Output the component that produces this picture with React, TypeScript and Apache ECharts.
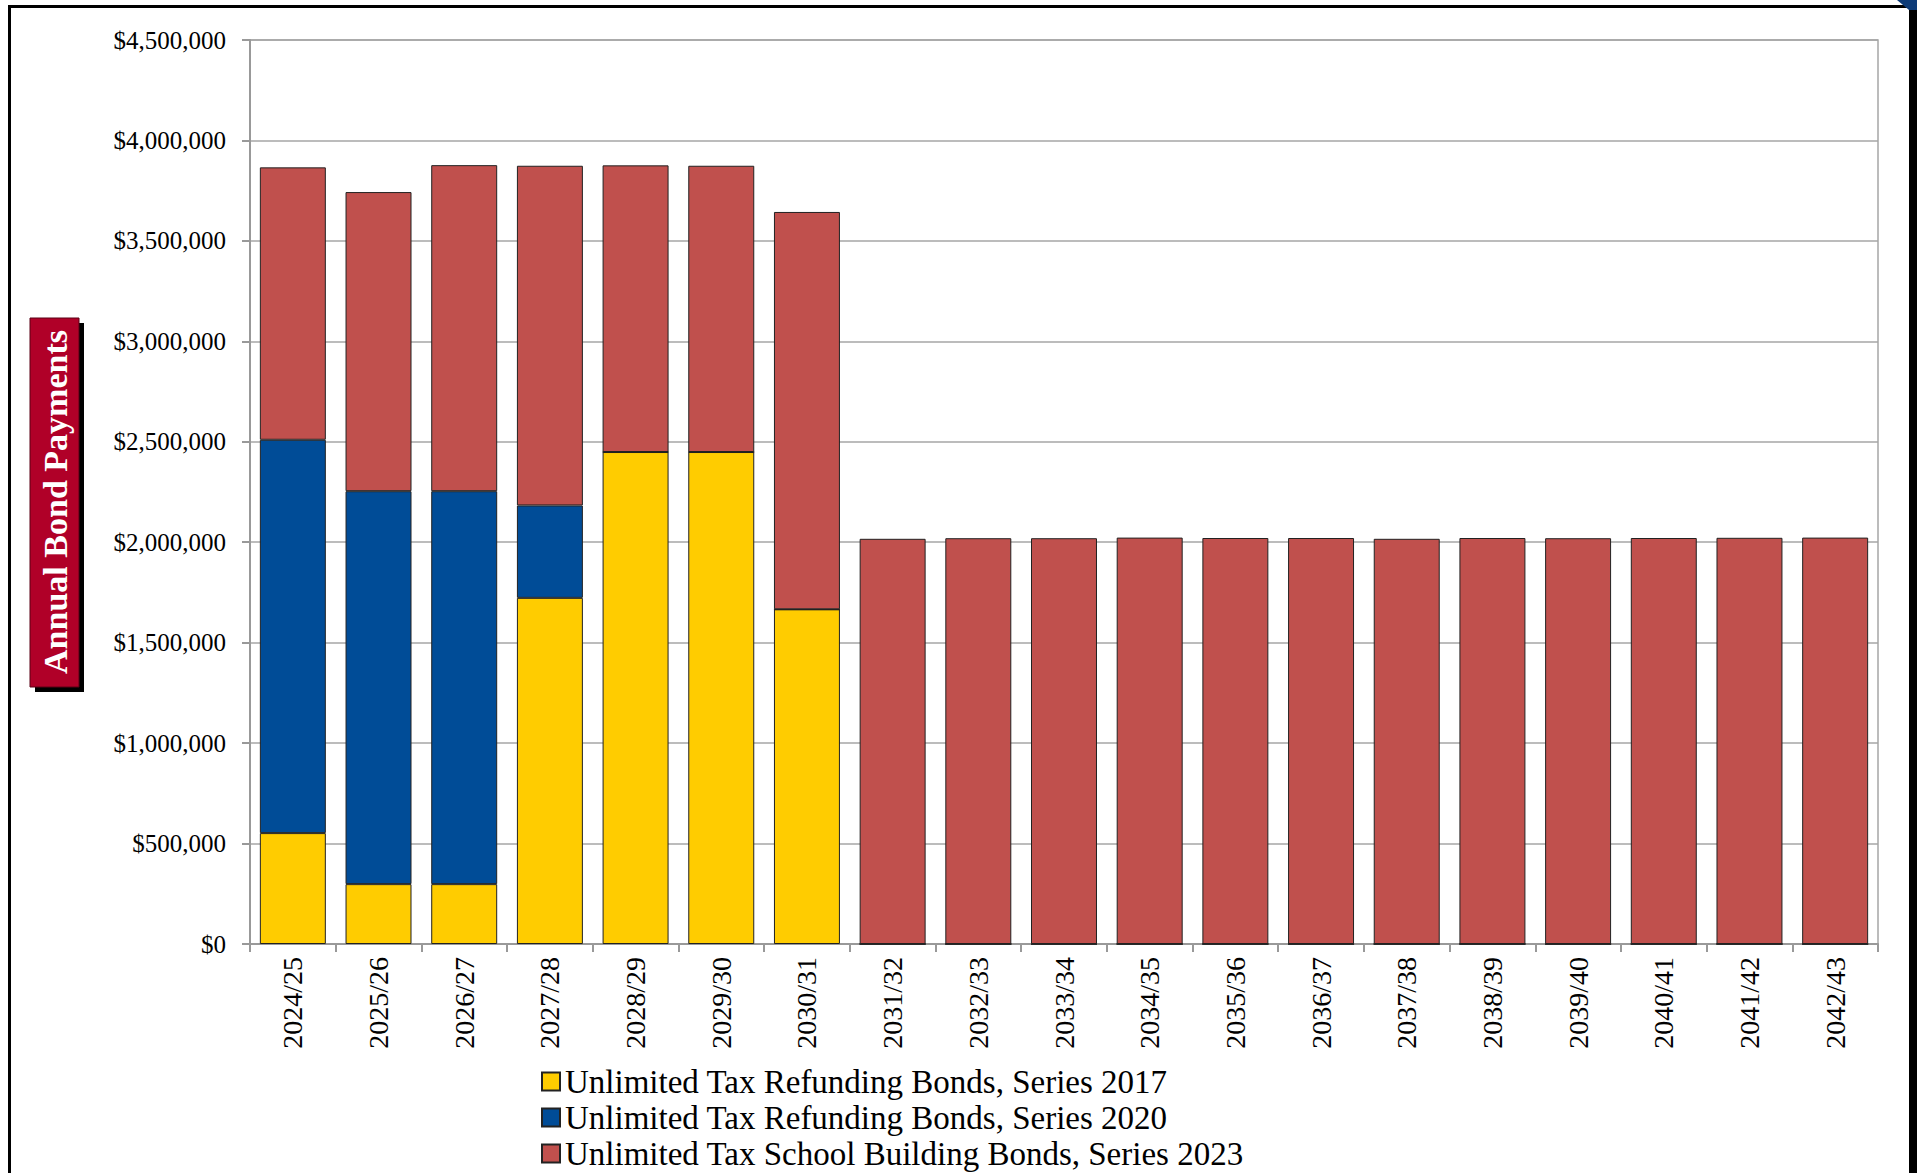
import React, { useEffect, useRef } from "react";
import * as echarts from "echarts";

const categories = [
  "2024/25", "2025/26", "2026/27", "2027/28", "2028/29", "2029/30", "2030/31",
  "2031/32", "2032/33", "2033/34", "2034/35", "2035/36", "2036/37", "2037/38",
  "2038/39", "2039/40", "2040/41", "2041/42", "2042/43",
];

const series2017 = [552000, 298000, 298000, 1723000, 2449000, 2449000, 1666000, 0, 0, 0, 0, 0, 0, 0, 0, 0, 0, 0, 0];
const series2020 = [1958000, 1956000, 1956000, 460000, 0, 0, 0, 0, 0, 0, 0, 0, 0, 0, 0, 0, 0, 0, 0];
const series2023 = [1356000, 1489000, 1623000, 1691000, 1427000, 1425000, 1978000, 2017000, 2020000, 2020000, 2023000, 2021000, 2021000, 2017000, 2021000, 2020000, 2021000, 2022000, 2023000];

const seriesNames = [
  "Unlimited Tax Refunding Bonds, Series 2017",
  "Unlimited Tax Refunding Bonds, Series 2020",
  "Unlimited Tax School Building Bonds, Series 2023",
];
const seriesColors = ["#FFCC00", "#004C97", "#C0504D"];
const axisTitle = "Annual Bond Payments";

const FONT = "'Liberation Serif', 'DejaVu Serif', serif";

function fmtMoney(v: number): string {
  const s = Math.round(v).toString();
  return "$" + s.replace(/\B(?=(\d{3})+(?!\d))/g, ",");
}

export default function App() {
  const ref = useRef<HTMLDivElement>(null);
  useEffect(() => {
    if (!ref.current) return;
    const chart = echarts.init(ref.current, undefined, { renderer: "svg" });
    const dataSets = [series2017, series2020, series2023];
    chart.setOption({
      animation: false,
      backgroundColor: "#ffffff",
      grid: {
        left: 250,
        top: 40,
        right: 39,
        bottom: 229,
        show: true,
        borderColor: "#a6a6a6",
        borderWidth: 1.5,
        containLabel: false,
      },
      legend: {
        orient: "vertical",
        left: 541,
        top: 1065,
        padding: 0,
        itemWidth: 18,
        itemHeight: 18,
        itemGap: 3,
        icon: "rect",
        textStyle: { fontFamily: FONT, fontSize: 33, color: "#000", lineHeight: 32 },
        data: seriesNames,
      },
      xAxis: {
        type: "category",
        data: categories,
        axisLine: { lineStyle: { color: "#999", width: 2 } },
        axisTick: { show: true, length: 8, lineStyle: { color: "#999", width: 2 } },
        axisLabel: {
          rotate: 90,
          margin: 13,
          fontFamily: FONT,
          fontSize: 28,
          color: "#000",
          interval: 0,
        },
      },
      yAxis: {
        type: "value",
        min: 0,
        max: 4500000,
        interval: 500000,
        axisLine: { show: true, lineStyle: { color: "#999", width: 2 } },
        axisTick: { show: true, length: 8, lineStyle: { color: "#999", width: 2 } },
        splitLine: { lineStyle: { color: "#a6a6a6", width: 1.5 } },
        axisLabel: {
          margin: 24,
          fontFamily: FONT,
          fontSize: 25,
          color: "#000",
          formatter: (v: number) => fmtMoney(v),
        },
      },
      series: seriesNames.map((name, i) => ({
        name,
        type: "bar",
        stack: "total",
        barCategoryGap: "23%",
        data: dataSets[i],
        itemStyle: {
          color: seriesColors[i],
          borderColor: "#222",
          borderWidth: 1,
        },
      })),
      graphic: [
        { type: "rect", shape: { x: 8, y: 5, width: 1901, height: 3 }, style: { fill: "#000" } },
        { type: "rect", shape: { x: 8, y: 5, width: 3, height: 1168 }, style: { fill: "#000" } },
        { type: "rect", shape: { x: 1909, y: 8, width: 8, height: 1165 }, style: { fill: "#000" } },
        { type: "polygon", shape: { points: [[1897, 0], [1917, 0], [1917, 10], [1909, 10]] }, style: { fill: "#0d3b78" } },
        { type: "rect", shape: { x: 35, y: 323, width: 49, height: 369 }, style: { fill: "#000" } },
        { type: "rect", shape: { x: 30, y: 318, width: 49, height: 369 }, style: { fill: "#B00028", stroke: "#5a0014", lineWidth: 1 } },
        {
          type: "text",
          x: 55,
          y: 502,
          rotation: Math.PI / 2,
          style: {
            text: axisTitle,
            fill: "#fff",
            font: "bold 34px 'Liberation Serif', 'DejaVu Serif', serif",
            align: "center",
            verticalAlign: "middle",
          },
        },
      ],
    });
    return () => chart.dispose();
  }, []);
  return (
    <div
      ref={ref}
      style={{ position: "fixed", left: 0, top: 0, width: 1917, height: 1173, background: "#fff" }}
    />
  );
}
